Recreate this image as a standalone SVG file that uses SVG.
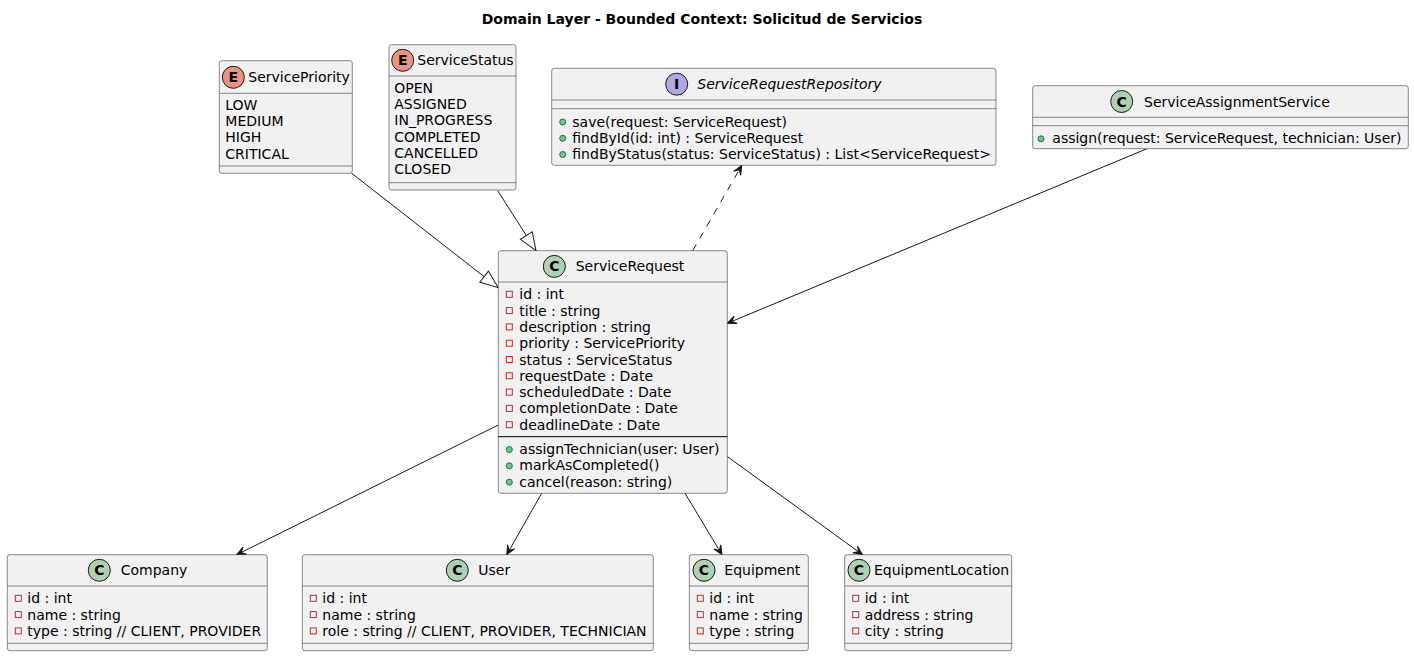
<svg xmlns="http://www.w3.org/2000/svg" width="1414" height="657" viewBox="0 0 1414 657">
<style>
.t{font-family:"DejaVu Sans","Liberation Sans",sans-serif;font-size:14px;fill:#000}
.it{font-style:italic}
.ttl{font-family:"DejaVu Sans","Liberation Sans",sans-serif;font-size:14px;font-weight:bold;fill:#000}
.box{fill:#F1F1F1;stroke:#181818;stroke-width:0.5}
.sep{stroke:#181818;stroke-width:0.5}
.sepb{stroke:#000;stroke-width:1}
.ic{stroke:#181818;stroke-width:1}
.cC{fill:#ADD1B2}
.cE{fill:#EB937F}
.cI{fill:#B4A7E5}
.lt{font-family:"DejaVu Sans","Liberation Sans",sans-serif;font-size:14px;font-weight:bold;fill:#000;text-anchor:middle}
.pv{fill:none;stroke:#C82930;stroke-width:1}
.pb{fill:#84BE84;stroke:#038048;stroke-width:1}
.ln{fill:none;stroke:#181818;stroke-width:1}
.dash{stroke-dasharray:7,7}
</style>
<defs>
<marker id="arr" markerUnits="userSpaceOnUse" markerWidth="12" markerHeight="10" viewBox="0 0 12 10" refX="10" refY="5" orient="auto">
<path d="M10,5 L1,1 L5,5 L1,9 Z" fill="#181818" stroke="#181818" stroke-width="1"/>
</marker>
<marker id="tri" markerUnits="userSpaceOnUse" markerWidth="22" markerHeight="18" viewBox="0 0 22 18" refX="20" refY="9" orient="auto">
<path d="M20,9 L2,2 L2,16 Z" fill="#FFFFFF" stroke="#181818" stroke-width="1"/>
</marker>
</defs>
<rect width="1414" height="657" fill="#FFFFFF"/>
<text class="ttl" x="702" y="24" text-anchor="middle">Domain Layer - Bounded Context: Solicitud de Servicios</text>

<g id="connectors">
<line class="ln" x1="351.7" y1="173.3" x2="498.3" y2="287.7" marker-end="url(#tri)"/>
<line class="ln" x1="497.7" y1="190.7" x2="536" y2="250.7" marker-end="url(#tri)"/>
<line class="ln dash" x1="692.7" y1="250.7" x2="741.7" y2="165.5" marker-end="url(#arr)"/>
<line class="ln" x1="1147" y1="148.7" x2="727.3" y2="323.3" marker-end="url(#arr)"/>
<line class="ln" x1="498.3" y1="425" x2="236.7" y2="554.7" marker-end="url(#arr)"/>
<line class="ln" x1="541.7" y1="493.3" x2="506.7" y2="554.7" marker-end="url(#arr)"/>
<line class="ln" x1="685" y1="493.3" x2="722" y2="554.7" marker-end="url(#arr)"/>
<line class="ln" x1="727.3" y1="456.5" x2="862.5" y2="554.7" marker-end="url(#arr)"/>
</g>

<g id="ServicePriority">
<rect class="box" x="219.3" y="60.7" width="133" height="112.6" rx="2.5"/>
<circle class="ic cE" cx="233.3" cy="77.3" r="11"/>
<text class="lt" x="233.3" y="82.3">E</text>
<text class="t" x="248.3" y="82.3">ServicePriority</text>
<line class="sep" x1="219.3" y1="93.3" x2="352.3" y2="93.3"/>
<text class="t" x="225.3" y="110">LOW</text>
<text class="t" x="225.3" y="126.2">MEDIUM</text>
<text class="t" x="225.3" y="142.4">HIGH</text>
<text class="t" x="225.3" y="158.6">CRITICAL</text>
<line class="sep" x1="219.3" y1="166" x2="352.3" y2="166"/>
</g>

<g id="ServiceStatus">
<rect class="box" x="389" y="44.7" width="127" height="145.3" rx="2.5"/>
<circle class="ic cE" cx="402.7" cy="60.3" r="11"/>
<text class="lt" x="402.7" y="65.3">E</text>
<text class="t" x="417.3" y="65.3">ServiceStatus</text>
<line class="sep" x1="389" y1="76" x2="516" y2="76"/>
<text class="t" x="394.3" y="92.7">OPEN</text>
<text class="t" x="394.3" y="109">ASSIGNED</text>
<text class="t" x="394.3" y="125.3">IN_PROGRESS</text>
<text class="t" x="394.3" y="141.6">COMPLETED</text>
<text class="t" x="394.3" y="157.9">CANCELLED</text>
<text class="t" x="394.3" y="174.2">CLOSED</text>
<line class="sep" x1="389" y1="182.7" x2="516" y2="182.7"/>
</g>

<g id="ServiceRequestRepository">
<rect class="box" x="551.7" y="68.3" width="444.3" height="97" rx="2.5"/>
<circle class="ic cI" cx="676.7" cy="84.2" r="11"/>
<text class="lt" x="676.7" y="89.2">I</text>
<text class="t it" x="697.3" y="89.2">ServiceRequestRepository</text>
<line class="sep" x1="551.7" y1="100" x2="996" y2="100"/>
<line class="sep" x1="551.7" y1="108.7" x2="996" y2="108.7"/>
<circle class="pb" cx="562.7" cy="122" r="3"/>
<text class="t" x="572.3" y="126.5">save(request: ServiceRequest)</text>
<circle class="pb" cx="562.7" cy="138.3" r="3"/>
<text class="t" x="572.3" y="142.8">findById(id: int) : ServiceRequest</text>
<circle class="pb" cx="562.7" cy="154.5" r="3"/>
<text class="t" x="572.3" y="159">findByStatus(status: ServiceStatus) : List&lt;ServiceRequest&gt;</text>
</g>

<g id="ServiceAssignmentService">
<rect class="box" x="1032.7" y="85.7" width="375.6" height="63" rx="2.5"/>
<circle class="ic cC" cx="1121.7" cy="101.5" r="11"/>
<text class="lt" x="1121.7" y="106.5">C</text>
<text class="t" x="1144" y="106.5">ServiceAssignmentService</text>
<line class="sep" x1="1032.7" y1="117.3" x2="1408.3" y2="117.3"/>
<line class="sep" x1="1032.7" y1="125.7" x2="1408.3" y2="125.7"/>
<circle class="pb" cx="1041" cy="138.8" r="3"/>
<text class="t" x="1052.3" y="143.3">assign(request: ServiceRequest, technician: User)</text>
</g>

<g id="ServiceRequest">
<rect class="box" x="498.3" y="250.7" width="229" height="242.6" rx="2.5"/>
<circle class="ic cC" cx="554.3" cy="266.4" r="11"/>
<text class="lt" x="554.3" y="271.4">C</text>
<text class="t" x="575.7" y="271.4">ServiceRequest</text>
<line class="sep" x1="498.3" y1="282" x2="727.3" y2="282"/>
<rect class="pv" x="506.3" y="291.3" width="6" height="6"/>
<text class="t" x="519.3" y="299.3">id : int</text>
<rect class="pv" x="506.3" y="307.6" width="6" height="6"/>
<text class="t" x="519.3" y="315.6">title : string</text>
<rect class="pv" x="506.3" y="323.9" width="6" height="6"/>
<text class="t" x="519.3" y="331.9">description : string</text>
<rect class="pv" x="506.3" y="340.2" width="6" height="6"/>
<text class="t" x="519.3" y="348.2">priority : ServicePriority</text>
<rect class="pv" x="506.3" y="356.5" width="6" height="6"/>
<text class="t" x="519.3" y="364.5">status : ServiceStatus</text>
<rect class="pv" x="506.3" y="372.8" width="6" height="6"/>
<text class="t" x="519.3" y="380.8">requestDate : Date</text>
<rect class="pv" x="506.3" y="389.1" width="6" height="6"/>
<text class="t" x="519.3" y="397.1">scheduledDate : Date</text>
<rect class="pv" x="506.3" y="405.4" width="6" height="6"/>
<text class="t" x="519.3" y="413.4">completionDate : Date</text>
<rect class="pv" x="506.3" y="421.7" width="6" height="6"/>
<text class="t" x="519.3" y="429.7">deadlineDate : Date</text>
<line class="sepb" x1="498.3" y1="436.7" x2="727.3" y2="436.7"/>
<circle class="pb" cx="509.3" cy="449.5" r="3"/>
<text class="t" x="519.3" y="454">assignTechnician(user: User)</text>
<circle class="pb" cx="509.3" cy="465.8" r="3"/>
<text class="t" x="519.3" y="470.3">markAsCompleted()</text>
<circle class="pb" cx="509.3" cy="482.1" r="3"/>
<text class="t" x="519.3" y="486.6">cancel(reason: string)</text>
</g>

<g id="Company">
<rect class="box" x="7.3" y="554.7" width="260" height="96" rx="2.5"/>
<circle class="ic cC" cx="99.3" cy="570.3" r="11"/>
<text class="lt" x="99.3" y="575.3">C</text>
<text class="t" x="120.7" y="575.3">Company</text>
<line class="sep" x1="7.3" y1="586" x2="267.3" y2="586"/>
<rect class="pv" x="15.3" y="595.3" width="6" height="6"/>
<text class="t" x="27.3" y="603.3">id : int</text>
<rect class="pv" x="15.3" y="611.6" width="6" height="6"/>
<text class="t" x="27.3" y="619.6">name : string</text>
<rect class="pv" x="15.3" y="627.9" width="6" height="6"/>
<text class="t" x="27.3" y="635.9">type : string // CLIENT, PROVIDER</text>
<line class="sep" x1="7.3" y1="643.3" x2="267.3" y2="643.3"/>
</g>

<g id="User">
<rect class="box" x="302.3" y="554.7" width="351" height="96" rx="2.5"/>
<circle class="ic cC" cx="457.3" cy="570.3" r="11"/>
<text class="lt" x="457.3" y="575.3">C</text>
<text class="t" x="478.3" y="575.3">User</text>
<line class="sep" x1="302.3" y1="586" x2="653.3" y2="586"/>
<rect class="pv" x="310.3" y="595.3" width="6" height="6"/>
<text class="t" x="322.3" y="603.3">id : int</text>
<rect class="pv" x="310.3" y="611.6" width="6" height="6"/>
<text class="t" x="322.3" y="619.6">name : string</text>
<rect class="pv" x="310.3" y="627.9" width="6" height="6"/>
<text class="t" x="322.3" y="635.9">role : string // CLIENT, PROVIDER, TECHNICIAN</text>
<line class="sep" x1="302.3" y1="643.3" x2="653.3" y2="643.3"/>
</g>

<g id="Equipment">
<rect class="box" x="689.3" y="554.7" width="119" height="96" rx="2.5"/>
<circle class="ic cC" cx="704" cy="570.3" r="11"/>
<text class="lt" x="704" y="575.3">C</text>
<text class="t" x="724.3" y="575.3">Equipment</text>
<line class="sep" x1="689.3" y1="586" x2="808.3" y2="586"/>
<rect class="pv" x="697.3" y="595.3" width="6" height="6"/>
<text class="t" x="709.3" y="603.3">id : int</text>
<rect class="pv" x="697.3" y="611.6" width="6" height="6"/>
<text class="t" x="709.3" y="619.6">name : string</text>
<rect class="pv" x="697.3" y="627.9" width="6" height="6"/>
<text class="t" x="709.3" y="635.9">type : string</text>
<line class="sep" x1="689.3" y1="643.3" x2="808.3" y2="643.3"/>
</g>

<g id="EquipmentLocation">
<rect class="box" x="844.7" y="554.7" width="167" height="96" rx="2.5"/>
<circle class="ic cC" cx="859" cy="570.3" r="11"/>
<text class="lt" x="859" y="575.3">C</text>
<text class="t" x="874" y="575.3">EquipmentLocation</text>
<line class="sep" x1="844.7" y1="586" x2="1011.7" y2="586"/>
<rect class="pv" x="852.7" y="595.3" width="6" height="6"/>
<text class="t" x="864.7" y="603.3">id : int</text>
<rect class="pv" x="852.7" y="611.6" width="6" height="6"/>
<text class="t" x="864.7" y="619.6">address : string</text>
<rect class="pv" x="852.7" y="627.9" width="6" height="6"/>
<text class="t" x="864.7" y="635.9">city : string</text>
<line class="sep" x1="844.7" y1="643.3" x2="1011.7" y2="643.3"/>
</g>
</svg>
